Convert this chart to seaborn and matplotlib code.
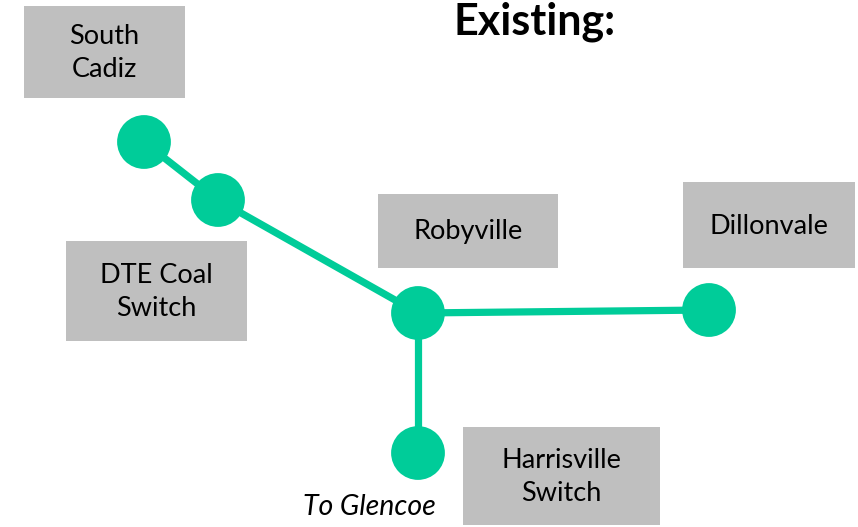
import matplotlib
matplotlib.use('Agg')
import pandas as pd
import seaborn as sns
import matplotlib.pyplot as plt
from matplotlib.patches import Rectangle

# node positions (pixel coordinates)
node_names = ['South Cadiz', 'DTE Coal Switch', 'Robyville', 'Dillonvale', 'Glencoe']
node_x = [144, 218, 418, 709, 418]
node_y = [142, 200, 313, 310, 453]
edges = [(0, 1), (1, 2), (2, 3), (2, 4)]

# label boxes: text, left, top, width, height
box_labels = ['South\nCadiz', 'DTE Coal\nSwitch', 'Robyville', 'Dillonvale', 'Harrisville\nSwitch']
box_left = [24, 66, 378, 683, 463]
box_top = [6, 241, 194, 182, 427]
box_w = [161, 181, 180, 172, 197]
box_h = [92, 100, 74, 86, 98]

GREEN = '#00CC99'
GRAY = '#BFBFBF'

sns.set_theme(style='white')
plt.rcParams['font.family'] = ['Lato', 'DejaVu Sans']

fig = plt.figure(figsize=(8.58, 5.27), dpi=100)
ax = fig.add_axes([0, 0, 1, 1])

for i, (left, top, w, h) in enumerate(zip(box_left, box_top, box_w, box_h)):
    ax.add_patch(Rectangle((left, top), w, h, facecolor=GRAY, edgecolor='none', zorder=1))
    ax.text(left + w / 2, top + h / 2 + 1, box_labels[i], ha='center', va='center',
            fontsize=19.5, color='black', linespacing=1.38, zorder=2)

for a, b in edges:
    df_edge = pd.DataFrame({'x': [node_x[a], node_x[b]], 'y': [node_y[a], node_y[b]]})
    sns.lineplot(data=df_edge, x='x', y='y', ax=ax, color=GREEN, linewidth=5.2,
                 sort=False, estimator=None, zorder=3)

df_nodes = pd.DataFrame({'name': node_names, 'x': node_x, 'y': node_y})
sns.scatterplot(data=df_nodes, x='x', y='y', ax=ax, s=1500, color=GREEN,
                edgecolor='none', linewidth=0, zorder=4, legend=False)

ax.text(535, 35, 'Existing:', ha='center', va='baseline', fontsize=31,
        fontweight='bold', color='black')
ax.text(369, 515, 'To Glencoe', ha='center', va='baseline', fontsize=20.5,
        fontstyle='italic', color='black')

ax.set_xlim(0, 858)
ax.set_ylim(527, 0)
ax.set_axis_off()

fig.savefig('out.png', dpi=100)
